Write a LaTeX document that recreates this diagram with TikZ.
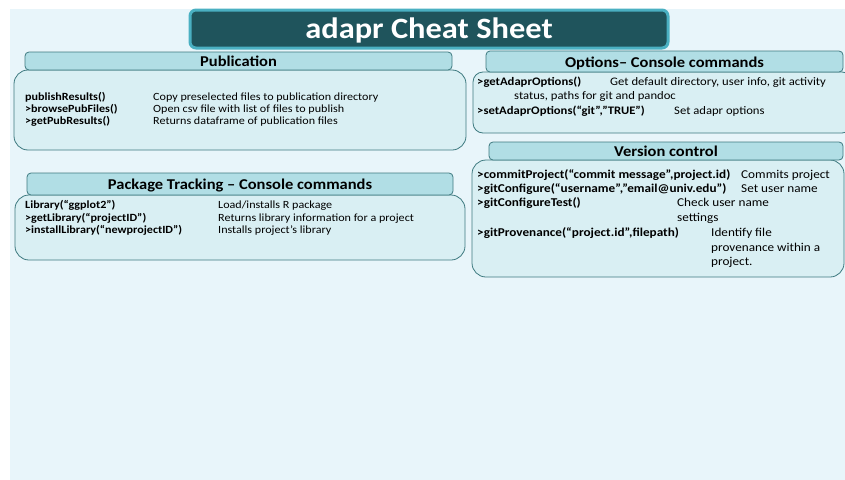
\documentclass[tikz,border=0pt]{standalone}
\usepackage{fontspec}
\setmainfont{Carlito}[FakeStretch=1.1]
\definecolor{pagebg}{HTML}{E8F5FA}
\definecolor{bodyfill}{HTML}{D9EFF3}
\definecolor{headfill}{HTML}{B1DEE5}
\definecolor{boxline}{HTML}{3E7A80}
\definecolor{titlefill}{HTML}{1F545C}
\definecolor{titleline}{HTML}{4AB0C2}
\tikzset{
  headbox/.style={draw=boxline, fill=headfill, rounded corners=4pt, line width=0.8pt},
  bodybox/.style={draw=boxline, fill=bodyfill, rounded corners=14pt, line width=0.8pt},
  fn/.style={anchor=base west, inner sep=0pt, font=\fontsize{11}{13}\selectfont\bfseries},
  desc/.style={anchor=base west, inner sep=0pt, font=\fontsize{11}{13}\selectfont},
  fnB/.style={fn, font=\fontsize{11.5}{13}\selectfont\bfseries},
  descB/.style={desc, font=\fontsize{11.5}{13}\selectfont},
  fnC/.style={fn, font=\fontsize{12}{14}\selectfont\bfseries},
  descC/.style={desc, font=\fontsize{12}{14}\selectfont},
  headtext/.style={anchor=base, inner sep=0pt, font=\fontsize{15}{17}\selectfont\bfseries},
}
\begin{document}
\begin{tikzpicture}[x=1pt,y=-1pt]
\useasboundingbox (0,0) rectangle (845,479);
% page background
\fill[pagebg] (10,9) rectangle (846,480);

% title banner
\path[fill=titlefill, draw=titleline, line width=3pt, rounded corners=6pt] (190,10) rectangle (668,48);
\node[anchor=base, inner sep=0pt, text=white, font=\fontsize{29.5}{32}\selectfont\bfseries] (title) at (429,38) {adapr Cheat Sheet};

% Publication
\path[bodybox] (14,70) rectangle (466,150);
\path[headbox] (25,52) rectangle (452,70);
\node[headtext] (pubhead) at (238.5,66) {Publication};
\node[fn]   (pub1) at (25,100) {publishResults()};
\node[desc] (pub1d) at (153,100) {Copy preselected files to publication directory};
\node[fn]   (pub2) at (25,112) {>browsePubFiles()};
\node[desc] (pub2d) at (153,112) {Open csv file with list of files to publish};
\node[fn]   (pub3) at (25,124) {>getPubResults()};
\node[desc] (pub3d) at (153,124) {Returns dataframe of publication files};

% Package Tracking
\path[bodybox] (15,195) rectangle (465,260);
\path[headbox] (27,173) rectangle (453,195);
\node[headtext] (pkghead) at (240,189) {Package Tracking – Console commands};
\node[fn]   (pkg1) at (25,208.5) {Library(“ggplot2”)};
\node[desc] (pkg1d) at (218,208.5) {Load/installs R package};
\node[fn]   (pkg2) at (25,221) {>getLibrary(“projectID”)};
\node[desc] (pkg2d) at (218,221) {Returns library information for a project};
\node[fn]   (pkg3) at (25,233.5) {>installLibrary(“newprojectID”)};
\node[desc] (pkg3d) at (218,233.5) {Installs project’s library};

% Options
\path[bodybox, rounded corners=10pt] (473,72) rectangle (852,133);
\path[headbox] (486,51) rectangle (843,72);
\node[headtext] (opthead) at (664.5,67) {Options– Console commands};
\node[fnB]   (opt1) at (477,85) {>getAdaprOptions()};
\node[descB] (opt1d) at (610,85) {Get default directory, user info, git activity};
\node[descB] (opt1c) at (514,99.5) {status, paths for git and pandoc};
\node[fnB]   (opt2) at (477,114) {>setAdaprOptions(“git”,”TRUE”)};
\node[descB] (opt2d) at (674,114) {Set adapr options};

% Version control
\path[bodybox] (472,160) rectangle (844,277);
\path[headbox] (489,142) rectangle (843,160);
\node[headtext] (verhead) at (666,156) {Version control};
\node[fnC]   (ver1) at (477,178.5) {>commitProject(“commit message”,project.id)};
\node[descC] (ver1d) at (741,178.5) {Commits project};
\node[fnC]   (ver2) at (477,192.5) {>gitConfigure(“username”,”email@univ.edu”)};
\node[descC] (ver2d) at (741,192.5) {Set user name};
\node[fnC]   (ver3) at (477,206.5) {>gitConfigureTest()};
\node[descC] (ver3d) at (677,206.5) {Check user name};
\node[descC] (ver3c) at (677,221) {settings};
\node[fnC]   (ver4) at (477,236) {>gitProvenance(“project.id”,filepath)};
\node[descC] (ver4d) at (711,236) {Identify file};
\node[descC] (ver4c) at (711,251) {provenance within a};
\node[descC] (ver4e) at (711,265.5) {project.};
\end{tikzpicture}
\end{document}
